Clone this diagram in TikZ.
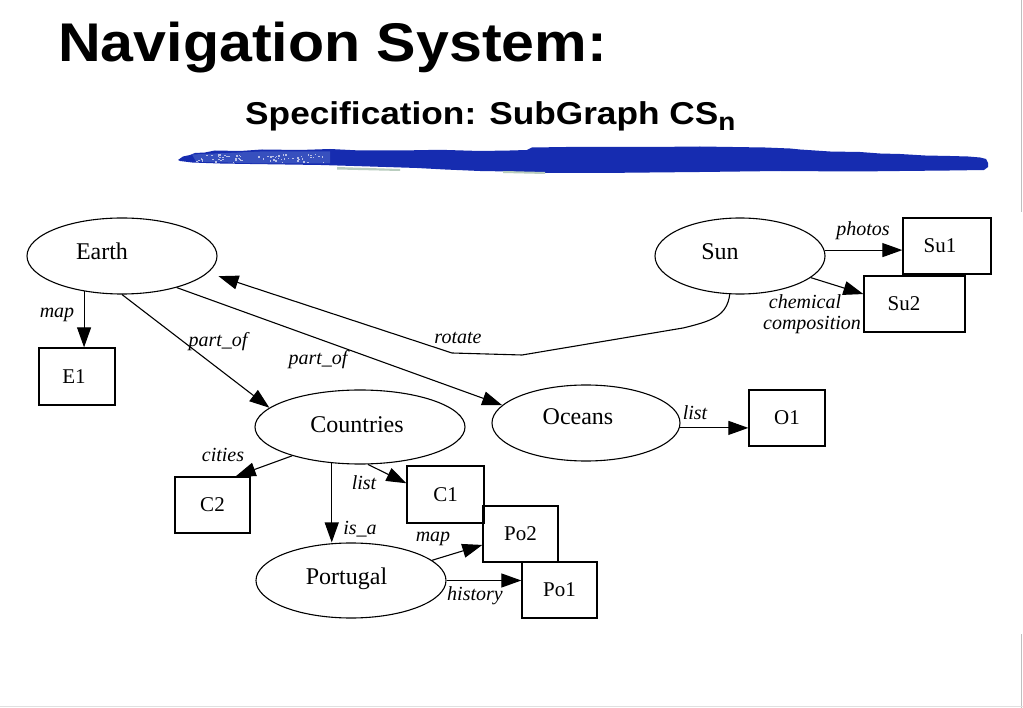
\documentclass[tikz,border=0pt]{standalone}
\usepackage{fontspec}
\usepackage{graphicx}
\setmainfont{Liberation Serif}
\newfontfamily\titlefont{Liberation Sans Bold}
\usetikzlibrary{arrows.meta,shapes.geometric}
\definecolor{brushblue}{RGB}{22,44,176}
\definecolor{brushlight}{RGB}{55,80,190}
\definecolor{streak}{RGB}{185,205,190}
\tikzset{
  ell/.style={draw, ellipse, line width=1.1pt, inner sep=0pt, font=\fontsize{24}{24}\selectfont},
  box/.style={draw, rectangle, line width=1.3pt, inner sep=0pt, font=\fontsize{21}{21}\selectfont},
  lab/.style={font=\itshape\fontsize{20}{20}\selectfont, inner sep=0pt},
  arr/.style={draw, line width=1.1pt, -{Triangle[length=20pt,width=14pt]}},
  frameline/.style={draw=black!25, line width=1pt}
}
\newcommand{\elltext}[3]{\raisebox{#2}[0pt][0pt]{#1\hspace*{#3}}}
\begin{document}
\begin{tikzpicture}[x=1pt,y=-1pt]
\path[use as bounding box, fill=white] (0,0) rectangle (1023,708);
% slide frame lines
\draw[frameline] (1021.5,0) -- (1021.5,212);
\draw[frameline] (1021.5,634) -- (1021.5,708);
\draw[draw=black!12, line width=1pt] (0,706.5) -- (1023,706.5);

% titles
\node[anchor=base west, inner sep=0pt, xscale=1.085,
      font=\titlefont\fontsize{54.5}{60}\selectfont] (title) at (58,61.7) {Navigation System:};
\node[anchor=base west, inner sep=0pt, xscale=1.115,
      font=\titlefont\fontsize{31.6}{34}\selectfont] (subtitle) at (245,124.3)
      {Specification: SubGraph CS\raisebox{-6.5pt}{\fontsize{25}{25}\selectfont n}};

% brush stroke
\fill[brushblue] (178,160) -- (183,156.5) -- (190,155) -- (195,153) -- (205,152.5) -- (215,150.5)
  -- (240,151) -- (262,149.5) -- (300,150) -- (330,149) -- (360,150.5) -- (400,150.5)
  -- (440,149.8) -- (480,151) -- (510,150.5) -- (527,150) -- (532,147.5) -- (580,146.8)
  -- (650,147) -- (700,146.5) -- (765,147.5) -- (790,148.5) -- (800,149.5)
  -- (830,151.5) -- (860,152) -- (880,153.5) -- (900,154) -- (925,155.5) -- (950,156)
  -- (968,156.5) -- (980,157.5) -- (986,159) -- (988,163) -- (988,167)
  -- (984,170) -- (950,170.5) -- (900,171) -- (856,171.5) -- (780,171) -- (700,172) -- (650,172.5)
  -- (600,173) -- (545,173) -- (510,171.5) -- (480,171) -- (445,169.5) -- (417,168)
  -- (370,166.5) -- (321,165) -- (285,164.5) -- (250,164) -- (220,163.5) -- (192,162.5) -- (180,161) -- cycle;
\fill[brushlight] (192,154.5) -- (260,151.5) -- (330,151.5) -- (330,163.5) -- (260,163.5) -- (196,161.5) -- cycle;
\pgfmathsetseed{11}
\foreach \i in {1,...,70}{
  \pgfmathsetmacro{\px}{196+rnd*130}
  \pgfmathsetmacro{\py}{154+rnd*8}
  \fill[white!70!brushblue] (\px,\py) rectangle ++(1.6,1.4);
}
\fill[streak] (337,167) -- (400,169) -- (400,171) -- (337,169.5) -- cycle;
\fill[streak] (503,171) -- (545,172) -- (545,174) -- (503,173) -- cycle;

% ellipses
\node[ell, minimum width=190pt, minimum height=76pt] (earth) at (122,256) {\elltext{Earth}{-4pt}{40pt}};
\node[ell, minimum width=170pt, minimum height=76pt] (sun) at (740,256) {\elltext{Sun}{-4pt}{40pt}};
\node[ell, minimum width=210pt, minimum height=74pt] (countries) at (360,427) {\elltext{Countries}{-6pt}{6pt}};
\node[ell, minimum width=188pt, minimum height=76pt] (oceans) at (586,423) {\elltext{Oceans}{-2pt}{16pt}};
\node[ell, minimum width=190pt, minimum height=75pt] (portugal) at (351,580.5) {\elltext{Portugal}{-3.5pt}{9pt}};

% boxes
\node[box, minimum width=76pt, minimum height=57pt] (e1) at (77,376.5) {E1\hspace*{6pt}};
\node[box, minimum width=88pt, minimum height=56pt] (su1) at (947,246) {Su1\hspace*{14pt}};
\node[box, minimum width=101pt, minimum height=56pt] (su2) at (914.5,304) {Su2\hspace*{21pt}};
\node[box, minimum width=76pt, minimum height=56pt] (o1) at (787,418) {O1};
\node[box, minimum width=75pt, minimum height=56pt] (c2) at (212.5,505) {C2};
\node[box, minimum width=77pt, minimum height=57pt] (c1) at (445.5,494.5) {C1};
\node[box, minimum width=75pt, minimum height=56pt] (po2) at (520.5,534) {Po2};
\node[box, minimum width=75pt, minimum height=56pt] (po1) at (559.5,590) {Po1};

% connectors
\draw[arr] (earth.223) -- (earth.223 |- e1.north);
\draw[arr] (earth.south) -- (countries.168);
\draw[arr] (earth.-30) -- (oceans.168);
\coordinate (r0) at (683,328);
\coordinate (r1) at (522,355);
\coordinate (r2) at (452,353);
\draw[arr, shorten >=11pt] (sun.255) .. controls (727,316) and (712,321) .. (r0) -- (r1) -- (r2) -- (earth.-11);
\draw[arr] (sun.4) -- (sun.4 -| su1.west);
\draw[arr] (sun.-17) -- (su2.169);
\draw[arr] (oceans.-3) -- (oceans.-3 -| o1.west);
\draw[arr] (countries.203) -- (c2.51);
\draw[arr] (countries.-78) -- (c1.164);
\draw[arr] (countries.-128) -- (countries.-128 |- portugal.north);
\draw[arr] (portugal.14) -- (po2.196);
\draw[arr] (portugal.east) -- (portugal.east -| po1.west);

% edge labels
\node[lab] (lmap1) at (57,315) {map};
\node[lab] (lpart1) at (218,342) {part\_of};
\node[lab] (lpart2) at (318,360) {part\_of};
\node[lab] (lrot) at (458,338) {rotate};
\node[lab] (lphot) at (863,231) {photos};
\node[lab] (lchem) at (805,302) {chemical};
\node[lab] (lcomp) at (812,325) {composition};
\node[lab] (llist1) at (695,413) {list};
\node[lab] (lcit) at (223,455) {cities};
\node[lab] (llist2) at (364,483) {list};
\node[lab] (lisa) at (360,529) {is\_a};
\node[lab] (lmap2) at (433,539) {map};
\node[lab] (lhist) at (475,596) {history};
\end{tikzpicture}
\end{document}
